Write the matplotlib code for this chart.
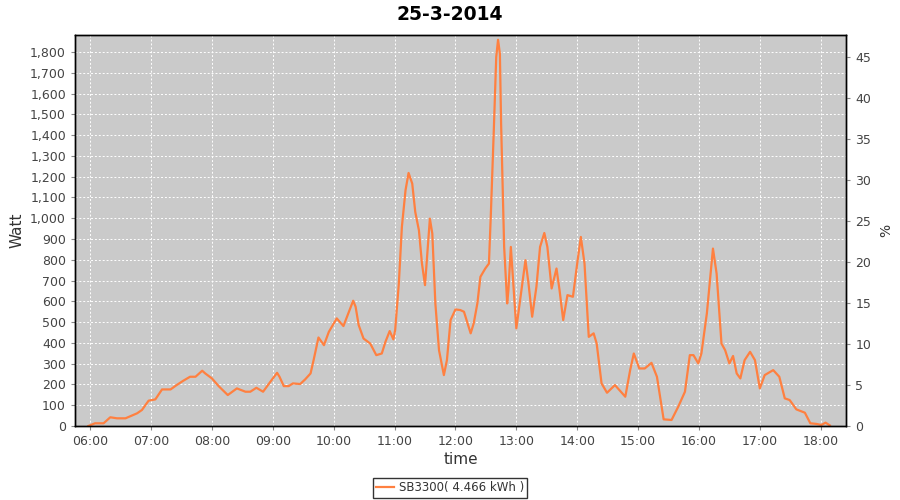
import matplotlib.pyplot as plt
from matplotlib.ticker import FuncFormatter, MultipleLocator

# time in hours of the day, power in Watt
hours = [5.97, 6.08, 6.22, 6.33, 6.44, 6.58, 6.77, 6.85, 6.96, 7.07, 7.18, 7.32,
         7.42, 7.53, 7.64, 7.73, 7.84, 7.89, 8.0, 8.11, 8.26, 8.41, 8.55, 8.63,
         8.73, 8.84, 8.96, 9.07, 9.11, 9.18, 9.26, 9.33, 9.45, 9.53, 9.62, 9.67,
         9.75, 9.84, 9.92, 10.05, 10.16, 10.25, 10.32, 10.36, 10.41, 10.49, 10.60,
         10.70, 10.79, 10.85, 10.92, 10.98, 11.01, 11.07, 11.12, 11.18, 11.23,
         11.29, 11.34, 11.40, 11.45, 11.50, 11.53, 11.58, 11.62, 11.67, 11.73,
         11.81, 11.86, 11.92, 12.0, 12.08, 12.14, 12.25, 12.30, 12.36, 12.41,
         12.49, 12.55, 12.58, 12.63, 12.67, 12.70, 12.73, 12.75, 12.80, 12.85,
         12.87, 12.91, 12.95, 13.0, 13.07, 13.15, 13.20, 13.26, 13.33, 13.39,
         13.46, 13.51, 13.58, 13.66, 13.71, 13.77, 13.84, 13.93, 14.0, 14.06,
         14.12, 14.19, 14.27, 14.32, 14.40, 14.49, 14.62, 14.79, 14.87, 14.93,
         15.02, 15.11, 15.22, 15.31, 15.42, 15.55, 15.66, 15.77, 15.85, 15.91,
         15.99, 16.04, 16.13, 16.23, 16.29, 16.37, 16.43, 16.50, 16.56, 16.62,
         16.68, 16.75, 16.84, 16.92, 17.0, 17.08, 17.22, 17.32, 17.41, 17.49,
         17.60, 17.74, 17.83, 17.93, 18.01, 18.08, 18.15]
watt = [0, 13, 13, 42, 37, 37, 61, 77, 122, 128, 176, 176,
        197, 218, 237, 237, 266, 253, 229, 192, 149, 181, 165, 165,
        184, 165, 213, 256, 237, 192, 192, 205, 202, 224, 253, 317,
        426, 389, 453, 518, 481, 550, 603, 574, 486, 421, 397,
        341, 349, 405, 457, 417, 462, 686, 958, 1135, 1218,
        1167, 1030, 942, 782, 678, 798, 998, 926, 590, 365,
        245, 317, 510, 561, 558, 550, 446, 494, 590, 718,
        758, 782, 1006, 1423, 1776, 1859, 1792, 1455, 862, 590,
        654, 862, 686, 470, 622, 798, 686, 526, 670, 862,
        929, 862, 662, 758, 654, 510, 630, 622, 782, 910,
        782, 429, 446, 397, 205, 160, 197, 141, 269, 349,
        277, 277, 304, 237, 32, 29, 93, 165, 341, 341,
        301, 349, 542, 854, 734, 397, 365, 301, 337, 253,
        229, 317, 357, 317, 181, 245, 269, 237, 133, 125,
        80, 64, 13, 10, 5, 16, 3]

tick_hours = list(range(6, 19))
tick_labels = ['%02d:00' % h for h in tick_hours]
series_label = 'SB3300( 4.466 kWh )'

fig = plt.figure(figsize=(9, 5), dpi=100)
ax = fig.add_axes([0.0833, 0.148, 0.857, 0.782])
ax.set_facecolor('#cacaca')
ax.plot(hours, watt, color='#ff8040', linewidth=1.6, label=series_label)

ax.set_xlim(5.75, 18.42)
ax.set_ylim(0, 1882)
ax.set_xticks(tick_hours)
ax.set_xticklabels(tick_labels)
ax.yaxis.set_major_locator(MultipleLocator(100))
ax.yaxis.set_major_formatter(FuncFormatter(lambda v, p: '{:,.0f}'.format(v)))
ax.grid(True, color='white', linestyle=(0, (2, 2)), linewidth=0.7)
ax.set_axisbelow(True)

ax2 = ax.twinx()
ax2.set_ylim(0, 1882 * 0.02534)
ax2.yaxis.set_major_locator(MultipleLocator(5))

for a in (ax, ax2):
    a.tick_params(labelsize=9, labelcolor='#444444', color='#888888', length=3)
    for s in a.spines.values():
        s.set_color('black')
        s.set_linewidth(1)

ax.set_xlabel('time', fontsize=11, color='#333333', labelpad=3)
ax.set_ylabel('Watt', fontsize=11, color='#333333', labelpad=4)
ax2.set_ylabel('%', fontsize=10, color='#333333', labelpad=6)
fig.suptitle('25-3-2014', fontsize=13.5, fontweight='bold', y=0.99)

leg = fig.legend(loc='center', bbox_to_anchor=(0.5, 0.024), fontsize=8.5,
                 fancybox=False, edgecolor='black', handlelength=1.5,
                 borderpad=0.3, handletextpad=0.4)
leg.get_frame().set_linewidth(1)
for t in leg.get_texts():
    t.set_color('#333333')

fig.savefig('out.png', dpi=100)
